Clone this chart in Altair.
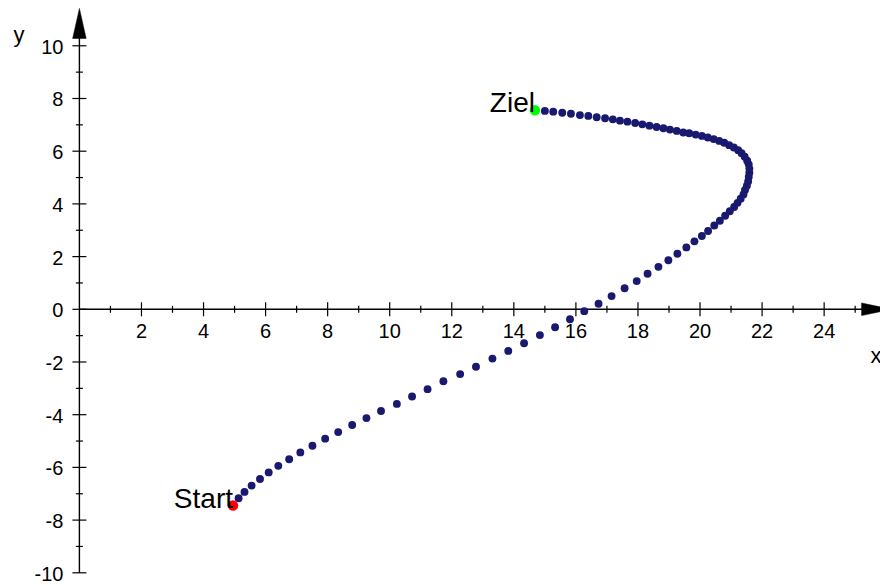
import altair as alt
import pandas as pd

# Trajectory of the moving point, in order from "Start" to "Ziel"
path_x = [
    4.95, 5.13, 5.32, 5.55, 5.82, 6.10, 6.41, 6.76, 7.12, 7.51,
    7.92, 8.34, 8.79, 9.25, 9.72, 10.23, 10.72, 11.22, 11.73, 12.27,
    12.78, 13.31, 13.82, 14.33, 14.84, 15.33, 15.81, 16.27, 16.73, 17.15,
    17.57, 17.96, 18.31, 18.66, 18.98, 19.27, 19.56, 19.82, 20.06, 20.26,
    20.46, 20.64, 20.81, 20.96, 21.10, 21.21, 21.31, 21.40, 21.45, 21.51,
    21.55, 21.57, 21.59, 21.59, 21.57, 21.52, 21.44, 21.34, 21.23, 21.09,
    20.94, 20.78, 20.62, 20.44, 20.25, 20.06, 19.86, 19.65, 19.46, 19.25,
    19.03, 18.82, 18.60, 18.37, 18.14, 17.91, 17.66, 17.42, 17.19, 16.94,
    16.67, 16.40, 16.13, 15.84, 15.56, 15.27, 15.00, 14.68,
]
path_y = [
    -7.45, -7.17, -6.93, -6.69, -6.44, -6.19, -5.94, -5.69, -5.43, -5.18,
    -4.91, -4.66, -4.39, -4.13, -3.86, -3.59, -3.31, -3.03, -2.73, -2.46,
    -2.18, -1.87, -1.58, -1.29, -0.98, -0.68, -0.38, -0.07, 0.21, 0.50,
    0.80, 1.07, 1.35, 1.61, 1.86, 2.11, 2.35, 2.58, 2.78, 2.97,
    3.18, 3.36, 3.55, 3.72, 3.88, 4.04, 4.20, 4.36, 4.53, 4.69,
    4.85, 5.02, 5.18, 5.34, 5.50, 5.64, 5.79, 5.92, 6.04, 6.14,
    6.23, 6.32, 6.39, 6.46, 6.52, 6.58, 6.63, 6.68, 6.71, 6.77,
    6.82, 6.87, 6.92, 6.97, 7.02, 7.07, 7.12, 7.16, 7.21, 7.25,
    7.29, 7.34, 7.37, 7.42, 7.46, 7.50, 7.53, 7.55,
]
end_labels = ["Start", "Ziel"]
end_colors = ["#ff0000", "#00ff00"]

# Axis ticks and labels
x_major = [2, 4, 6, 8, 10, 12, 14, 16, 18, 20, 22, 24]
x_minor = [1, 3, 5, 7, 9, 11, 13, 15, 17, 19, 21, 23, 25]
y_major = [-10, -8, -6, -4, -2, 0, 2, 4, 6, 8, 10]
y_minor = [-9, -7, -5, -3, -1, 1, 3, 5, 7, 9]
x_axis_end = 25.6
y_axis_range = [-10, 11.0]
arrow_x = 25.69
arrow_y = 10.85
axis_names = ["x", "y"]
axis_name_x = [25.67, -1.95]
axis_name_y = [-1.78, 10.41]

FONT = "Liberation Sans"
xs = alt.Scale(domain=[-2.559, 25.80], nice=False, zero=False)
ys = alt.Scale(domain=[-10.463, 11.738], nice=False, zero=False)


def X(field):
    return alt.X(field, type="quantitative", scale=xs, axis=None)


def Y(field):
    return alt.Y(field, type="quantitative", scale=ys, axis=None)


path_df = pd.DataFrame({"x": path_x, "y": path_y})
ends_df = pd.DataFrame({
    "x": [path_x[0], path_x[-1]],
    "y": [path_y[0], path_y[-1]],
    "label": end_labels,
    "color": end_colors,
})

axis_df = pd.DataFrame({
    "x1": [0, 0], "x2": [x_axis_end, 0],
    "y1": [0, y_axis_range[0]], "y2": [0, y_axis_range[1]],
})
axis_lines = alt.Chart(axis_df).mark_rule(color="black", strokeWidth=1.4).encode(
    x=X("x1"), x2="x2", y=Y("y1"), y2="y2"
)

# tick labels use a plain hyphen for negative numbers
xmaj_df = pd.DataFrame({"v": x_major, "z": 0, "s": [str(v) for v in x_major]})
xmin_df = pd.DataFrame({"v": x_minor, "z": 0})
ymaj_df = pd.DataFrame({"v": y_major, "z": 0, "s": [str(v) for v in y_major]})
ymin_df = pd.DataFrame({"v": y_minor, "z": 0})

x_ticks_major = alt.Chart(xmaj_df).mark_rule(
    color="black", strokeWidth=1.2, yOffset=-7, y2Offset=7
).encode(x=X("v"), y=Y("z"), y2="z")
x_ticks_minor = alt.Chart(xmin_df).mark_rule(
    color="black", strokeWidth=1.2, yOffset=-3.5, y2Offset=3.5
).encode(x=X("v"), y=Y("z"), y2="z")
y_ticks_major = alt.Chart(ymaj_df).mark_rule(
    color="black", strokeWidth=1.2, xOffset=-7, x2Offset=7
).encode(y=Y("v"), x=X("z"), x2="z")
y_ticks_minor = alt.Chart(ymin_df).mark_rule(
    color="black", strokeWidth=1.2, xOffset=-3.5, x2Offset=3.5
).encode(y=Y("v"), x=X("z"), x2="z")

x_labels = alt.Chart(xmaj_df).mark_text(
    font=FONT, fontSize=20, color="black", align="center", baseline="middle", dy=23
).encode(x=X("v"), y=Y("z"), text="s:N")
y_labels = alt.Chart(ymaj_df).mark_text(
    font=FONT, fontSize=20, color="black", align="right", baseline="middle", dx=-16, dy=2
).encode(x=X("z"), y=Y("v"), text="s:N")

# Arrow heads at the ends of both axes
arrow_up = alt.Chart(pd.DataFrame({"x": [0], "y": [arrow_y]})).mark_point(
    shape="M0,-1L0.45,1L-0.45,1Z", size=900, filled=True, fill="black",
    stroke="black", strokeWidth=0.5, opacity=1
).encode(x=X("x"), y=Y("y"))
arrow_right = alt.Chart(pd.DataFrame({"x": [arrow_x], "y": [0]})).mark_point(
    shape="M1,0L-1,-0.42L-1,0.42Z", size=900, filled=True, fill="black",
    stroke="black", strokeWidth=0.5, opacity=1
).encode(x=X("x"), y=Y("y"))

names_df = pd.DataFrame({"x": axis_name_x, "y": axis_name_y, "t": axis_names})
axis_names_layer = alt.Chart(names_df).mark_text(
    font=FONT, fontSize=22, color="black", align="center", baseline="middle"
).encode(x=X("x"), y=Y("y"), text="t")

dots = alt.Chart(path_df).mark_circle(size=62, color="#191970", opacity=1).encode(
    x=X("x"), y=Y("y")
)
end_dots = alt.Chart(ends_df).mark_circle(size=110, opacity=1).encode(
    x=X("x"), y=Y("y"), color=alt.Color("color:N", scale=None)
)
end_text = alt.Chart(ends_df).mark_text(
    font=FONT, fontSize=28, color="black", align="right", baseline="alphabetic", dy=2
).encode(x=X("x"), y=Y("y"), text="label")

chart = alt.layer(
    axis_lines, x_ticks_major, x_ticks_minor, y_ticks_major, y_ticks_minor,
    x_labels, y_labels, arrow_up, arrow_right, axis_names_layer,
    dots, end_dots, end_text,
).properties(
    width=880, height=585, padding=0,
    autosize=alt.AutoSizeParams(type="none"),
    background="white",
).configure_view(stroke=None)

chart.save("out.html", embed_options={"renderer": "svg", "actions": False})
